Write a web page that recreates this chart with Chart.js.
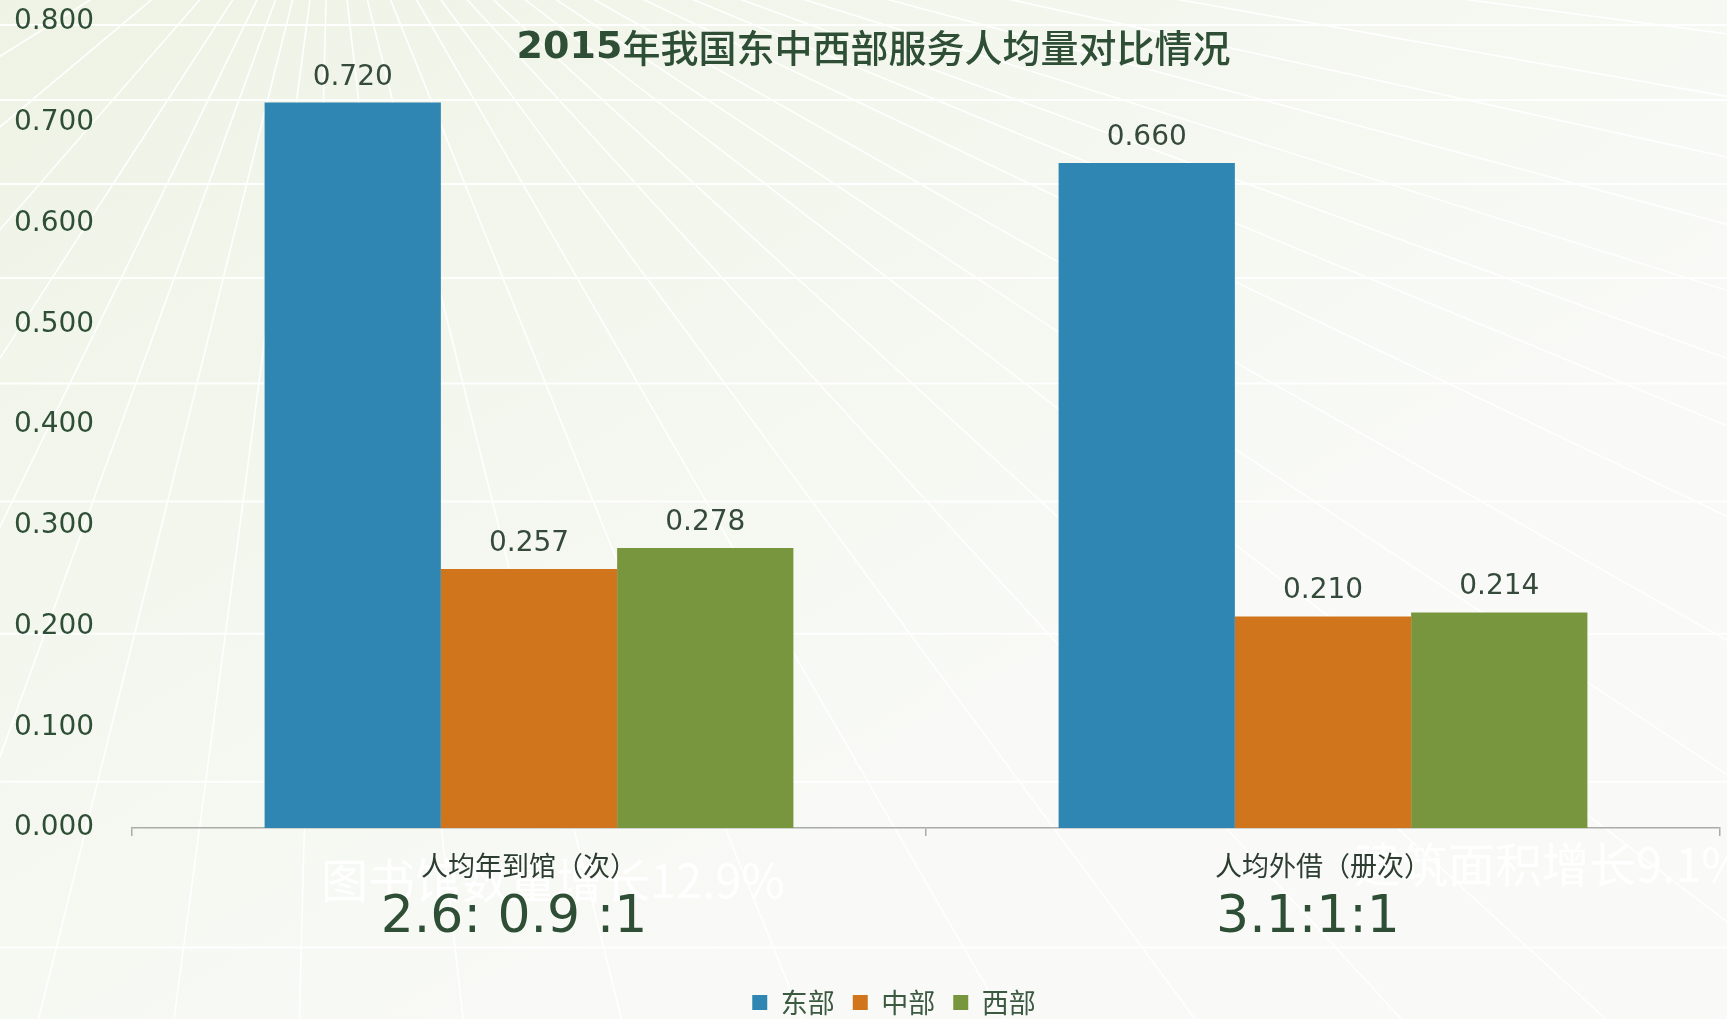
<!DOCTYPE html>
<html>
<head>
<meta charset="utf-8">
<script src="https://cdn.jsdelivr.net/npm/chart.js@4.4.1/dist/chart.umd.min.js"></script>
<style>
  html, body { margin: 0; padding: 0; background: #f3f6ee; overflow: hidden; }
  canvas { display: block; }
</style>
</head>
<body>
<canvas id="chServizi" width="1727" height="1019"></canvas>
<script>
const titleYear   = '2015';
const titleRest   = '年我国东中西部服务人均量对比情况';
const categories  = ['人均年到馆（次）', '人均外借（册次）'];
const ratioLabels = ['2.6: 0.9 :1', '3.1:1:1'];
const seriesNames = ['东部', '中部', '西部'];
const eastValues  = [0.720, 0.660];
const midValues   = [0.257, 0.210];
const westValues  = [0.278, 0.214];
const yTickValues = [0, 0.1, 0.2, 0.3, 0.4, 0.5, 0.6, 0.7, 0.8];
const watermarks  = ['图书馆数量增长12.9%', '建筑面积增长9.1%'];

const COLORS = ['#2f86b3', '#d0751b', '#78963e'];
const TXT_DARK = '#2e4f36';
const CJK = '"Noto Sans CJK SC", sans-serif';
const LAT = '"DejaVu Sans", sans-serif';

// raggi dello sfondo (gradi rispetto alla verticale, solo decorazione)
const RAYS = [-66, -58, -50, -41, -33, -26, -20, -14, -7.6, -1.5, 6.5, 14, 22, 30, 36.5,
              42.5, 47.5, 52.5, 56.5, 60.5, 64.5, 67.6, 70, 72.5, 75, 77.6, 80, 82.5, 85];

// sfondo: gradiente + linee prospettiche bianche
const bgPlugin = {
  id: 'bgDecor',
  beforeDraw(chart) {
    const { ctx, width: W, height: H } = chart;
    ctx.save();
    const g = ctx.createLinearGradient(0, 0, W * 0.35, H);
    g.addColorStop(0, '#eef3e5');
    g.addColorStop(1, '#f9faf7');
    ctx.fillStyle = g;
    ctx.fillRect(0, 0, W, H);

    ctx.strokeStyle = 'rgba(255,255,255,0.95)';
    ctx.lineWidth = 2;
    let y = 25, d = 75;
    while (y < H) {
      ctx.beginPath(); ctx.moveTo(0, y); ctx.lineTo(W, y); ctx.stroke();
      y += d; d *= 1.12;
    }
    ctx.lineWidth = 1.6;
    const vx = 330, vy = -150;
    RAYS.forEach(a => {
      const r = a * Math.PI / 180;
      ctx.beginPath();
      ctx.moveTo(vx, vy);
      ctx.lineTo(vx + 3000 * Math.sin(r), vy + 3000 * Math.cos(r));
      ctx.stroke();
    });

    // scritte bianche di sfondo
    ctx.fillStyle = 'rgba(255,255,255,0.92)';
    ctx.textBaseline = 'middle';
    ctx.textAlign = 'left';
    ctx.font = '47px ' + CJK;
    ctx.fillText(watermarks[0], 321, 880);
    ctx.fillText(watermarks[1], 1354, 864);
    ctx.restore();
  }
};

// etichette valore sopra le barre
const valuePlugin = {
  id: 'valueLabels',
  afterDatasetsDraw(chart) {
    const { ctx } = chart;
    ctx.save();
    ctx.font = '28px ' + LAT;
    ctx.fillStyle = '#354a3a';
    ctx.textAlign = 'center';
    ctx.textBaseline = 'alphabetic';
    chart.data.datasets.forEach((ds, i) => {
      chart.getDatasetMeta(i).data.forEach((bar, j) => {
        ctx.fillText(ds.data[j].toFixed(3), bar.x, bar.y - 18);
      });
    });
    ctx.restore();
  }
};

// titolo (anno in grassetto) + rapporti sotto le categorie
const extraPlugin = {
  id: 'extraText',
  afterDraw(chart) {
    const { ctx, width: W } = chart;
    ctx.save();
    ctx.fillStyle = TXT_DARK;
    ctx.textBaseline = 'middle';
    ctx.textAlign = 'left';
    ctx.font = 'bold 38px ' + LAT;
    const w1 = ctx.measureText(titleYear).width;
    ctx.font = '500 38px ' + CJK;
    const w2 = ctx.measureText(titleRest).width;
    const x0 = W / 2 + 10 - (w1 + w2) / 2;
    ctx.font = 'bold 38px ' + LAT;
    ctx.fillText(titleYear, x0, 48);
    ctx.font = '500 38px ' + CJK;
    ctx.fillText(titleRest, x0 + w1, 48);

    const xs = chart.scales.x;
    ctx.textAlign = 'center';
    ctx.font = '52px ' + LAT;
    ratioLabels.forEach((t, i) => {
      ctx.fillText(t, xs.getPixelForValue(i) - 15, chart.chartArea.bottom + 90);
    });
    ctx.restore();
  }
};

// sposta la legenda dove sta nel riferimento
const legendShift = {
  id: 'legendShift',
  afterLayout(chart) {
    const lg = chart.legend;
    if (!lg) return;
    lg.left += 27; lg.right += 27;
    lg.top += 7; lg.bottom += 7;
  }
};

new Chart(document.getElementById('chServizi'), {
  type: 'bar',
  data: {
    labels: categories,
    datasets: [
      { label: seriesNames[0], data: eastValues, backgroundColor: COLORS[0] },
      { label: seriesNames[1], data: midValues,  backgroundColor: COLORS[1] },
      { label: seriesNames[2], data: westValues, backgroundColor: COLORS[2] }
    ]
  },
  options: {
    responsive: false,
    animation: false,
    layout: { padding: { left: 14, top: 22, right: 7, bottom: 0 } },
    datasets: { bar: { categoryPercentage: 0.666, barPercentage: 1, borderWidth: 0 } },
    plugins: {
      title: { display: false },
      tooltip: { enabled: false },
      legend: {
        display: true, position: 'bottom',
        labels: { boxWidth: 15, boxHeight: 15, padding: 18, color: '#3b5a41', font: { size: 27, family: CJK } }
      }
    },
    scales: {
      x: {
        grid: { offset: true, drawOnChartArea: false, drawTicks: true, tickLength: 8, color: '#a9aca7', lineWidth: 1.5 },
        border: { display: true, color: '#a9aca7', width: 1.5 },
        ticks: { color: '#2d3d31', padding: 14, font: { size: 27, family: CJK } },
        afterFit: s => { s.height = 136; }
      },
      y: {
        min: 0, max: 0.8,
        grid: { display: false },
        border: { display: false },
        afterBuildTicks: s => { s.ticks = yTickValues.map(v => ({ value: v })); },
        ticks: {
          crossAlign: 'far', color: TXT_DARK, font: { size: 28, family: LAT },
          callback: v => Number(v).toFixed(3)
        },
        afterFit: s => { s.width = 118; }
      }
    }
  },
  plugins: [bgPlugin, valuePlugin, extraPlugin, legendShift]
});
</script>
</body>
</html>
